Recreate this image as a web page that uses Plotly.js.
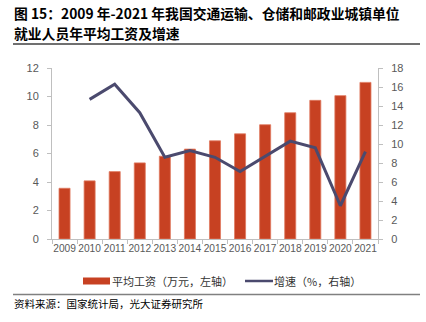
<!DOCTYPE html>
<html><head><meta charset="utf-8">
<script src="https://cdn.plot.ly/plotly-3.0.1.min.js"></script>
<style>html,body{margin:0;padding:0;background:#fff;}#c{width:426px;height:322px;}</style>
</head><body><div id="c"></div>
<script>
const years = ['2009','2010','2011','2012','2013','2014','2015','2016','2017','2018','2019','2020','2021'];
const wage = [3.56, 4.08, 4.73, 5.34, 5.81, 6.31, 6.89, 7.38, 8.02, 8.86, 9.73, 10.06, 10.99];
const growth = [null, 14.7, 16.3, 13.3, 8.6, 9.3, 8.6, 7.1, 8.7, 10.3, 9.6, 3.5, 9.2];
const leftTicks = [0,2,4,6,8,10,12];
const rightTicks = [0,2,4,6,8,10,12,14,16,18];
const titleLines = ['图 15：2009 年-2021 年我国交通运输、仓储和邮政业城镇单位','就业人员年平均工资及增速'];
const legendNames = ['平均工资（万元，左轴）','增速（%，右轴）'];
const sourceText = '资料来源：国家统计局，光大证券研究所';

const L=52, R=378, T=68, B=239;
const px = x => (x - L)/(R - L);
const py = y => (B - y)/(B - T);
const cjk = '"Noto Sans CJK SC", "Noto Sans", sans-serif';
const tickFont = {family:'"Liberation Sans", Arial, sans-serif', size:11, color:'#595959'};
const xTickFont = {family:'"Liberation Sans", Arial, sans-serif', size:10.2, color:'#595959'};

const data = [
  {type:'bar', x:years, y:wage, name:legendNames[0], marker:{color:'#C74122', line:{color:'#E07A60', width:0.8}}, width:0.44, yaxis:'y', showlegend:false},
  {type:'scatter', mode:'lines', x:years, y:growth, name:legendNames[1], line:{color:'#4B4A6E', width:3}, yaxis:'y2', showlegend:false, connectgaps:false}
];
const layout = {
  width:426, height:322, margin:{l:L, r:426-R, t:T, b:322-B},
  paper_bgcolor:'#fff', plot_bgcolor:'#fff',
  xaxis:{type:'category', range:[-0.5,12.5], showline:true, linecolor:'#BFBFBF', linewidth:1, ticks:'outside', tickson:'boundaries', ticklen:4, tickcolor:'#BFBFBF', tickfont:xTickFont, tickangle:0, showgrid:false, zeroline:false, fixedrange:true},
  yaxis:{range:[0,12], tickvals:leftTicks, showline:true, linecolor:'#BFBFBF', linewidth:1, ticks:'outside', ticklen:4, tickcolor:'#BFBFBF', tickfont:tickFont, showgrid:false, zeroline:false, ticklabelstandoff:6},
  yaxis2:{range:[0,18], tickvals:rightTicks, overlaying:'y', side:'right', showline:true, linecolor:'#BFBFBF', linewidth:1, ticks:'outside', ticklen:4, tickcolor:'#BFBFBF', tickfont:tickFont, showgrid:false, zeroline:false, ticklabelstandoff:6},
  bargap:0.56,
  shapes:[
    {type:'line', xref:'paper', yref:'paper', x0:px(13), x1:px(420), y0:py(44), y1:py(44), line:{color:'#404040', width:1.5}},
    {type:'line', xref:'paper', yref:'paper', x0:px(13), x1:px(420), y0:py(294.5), y1:py(294.5), line:{color:'#808080', width:1.5}},
    {type:'rect', xref:'paper', yref:'paper', x0:px(83), x1:px(110), y0:py(284.5), y1:py(277.5), fillcolor:'#C74122', line:{width:0}},
    {type:'line', xref:'paper', yref:'paper', x0:px(245), x1:px(273), y0:py(281), y1:py(281), line:{color:'#4B4A6E', width:2.5}}
  ],
  annotations:[
    {xref:'paper', yref:'paper', x:px(12), y:py(13), xanchor:'left', yanchor:'middle', showarrow:false, text:'<b>'+titleLines[0]+'</b>', font:{family:cjk, size:13.8, color:'#000'}},
    {xref:'paper', yref:'paper', x:px(12), y:py(33), xanchor:'left', yanchor:'middle', showarrow:false, text:'<b>'+titleLines[1]+'</b>', font:{family:cjk, size:13.8, color:'#000'}},
    {xref:'paper', yref:'paper', x:px(110), y:py(281), xanchor:'left', yanchor:'middle', showarrow:false, text:legendNames[0], font:{family:cjk, size:11, color:'#333'}},
    {xref:'paper', yref:'paper', x:px(272), y:py(281), xanchor:'left', yanchor:'middle', showarrow:false, text:legendNames[1], font:{family:cjk, size:11, color:'#333'}},
    {xref:'paper', yref:'paper', x:px(12), y:py(303), xanchor:'left', yanchor:'middle', showarrow:false, text:sourceText, font:{family:cjk, size:10.5, color:'#000'}}
  ]
};
Plotly.newPlot('c', data, layout, {staticPlot:true, displayModeBar:false});
</script></body></html>
